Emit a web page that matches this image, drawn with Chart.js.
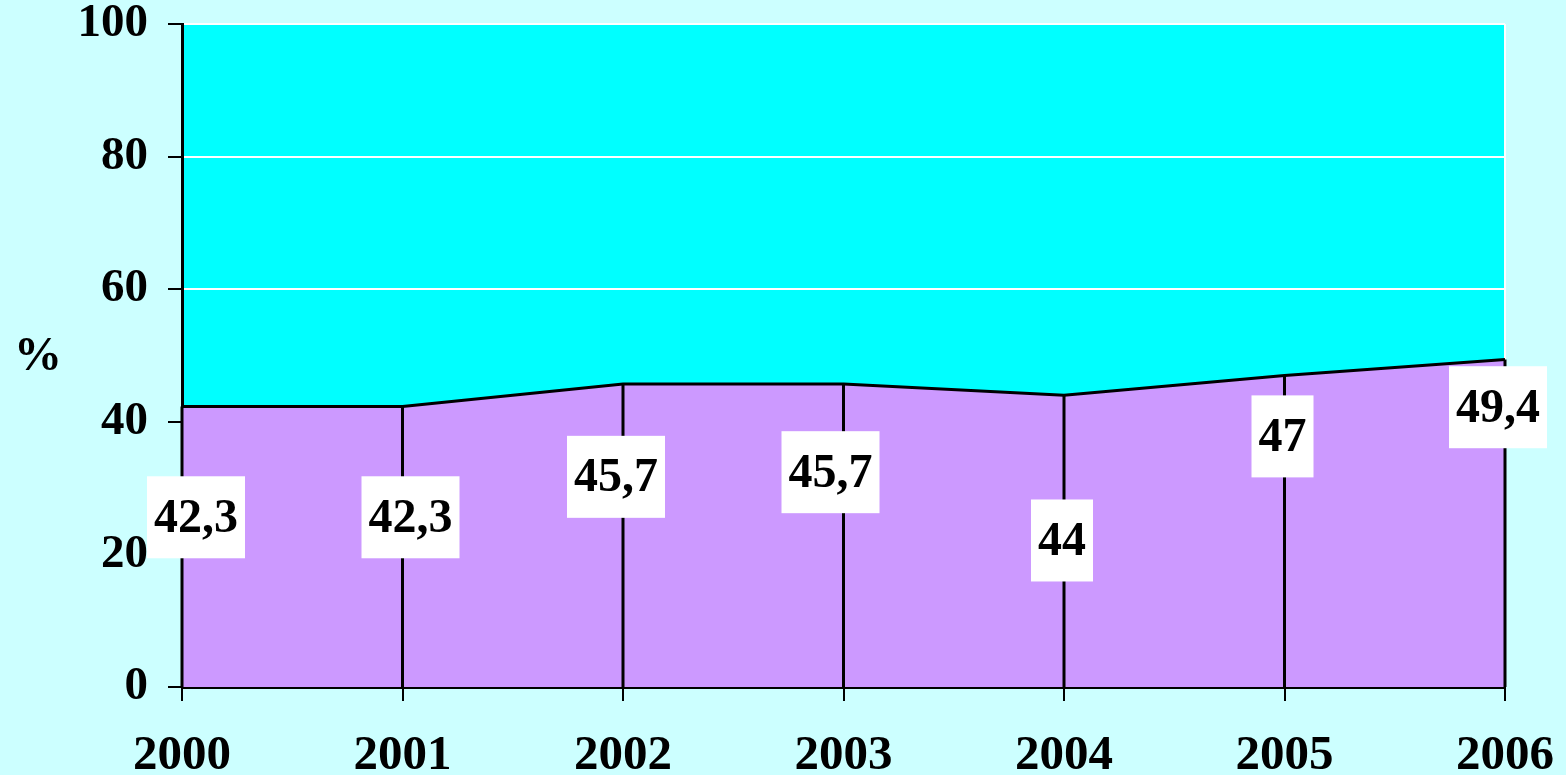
<!DOCTYPE html>
<html>
<head>
<meta charset="utf-8">
<style>
  html, body { margin: 0; padding: 0; background: #ccffff; }
  #wrap { width: 1566px; height: 775px; }
</style>
<script src="https://cdn.jsdelivr.net/npm/chart.js@4/dist/chart.umd.min.js"></script>
</head>
<body>
<div id="wrap"><canvas id="grafico"></canvas></div>
<script>
const anni = ['2000', '2001', '2002', '2003', '2004', '2005', '2006'];
const valori = [42.3, 42.3, 45.7, 45.7, 44, 47, 49.4];
const etichette = ['42,3', '42,3', '45,7', '45,7', '44', '47', '49,4'];
const yTicks = [0, 20, 40, 60, 80, 100];
// where the value boxes sit (in % units) and how far they are shifted sideways
const etichettaY = [25.6, 25.6, 31.7, 32.4, 22.1, 37.8, 42.2];
const etichettaDx = [14, 8, -7, -13, -2, -2, -7];

const FONT = '"Liberation Serif", "Times New Roman", serif';

const sfondoArea = {
    id: 'sfondoArea',
    beforeDraw(chart) {
        const { ctx, chartArea: a } = chart;
        ctx.save();
        ctx.fillStyle = '#00ffff';
        ctx.fillRect(a.left, a.top, a.right - a.left, a.bottom - a.top);
        // thin white edge on the right side of the plot
        ctx.fillStyle = '#ffffff';
        ctx.fillRect(a.right - 1, a.top, 2, a.bottom - a.top);
        ctx.restore();
    }
};

const lineeEtichette = {
    id: 'lineeEtichette',
    afterDatasetsDraw(chart) {
        const { ctx } = chart;
        const meta = chart.getDatasetMeta(0);
        const y = chart.scales.y;
        ctx.save();
        // drop lines
        ctx.strokeStyle = '#000';
        ctx.lineWidth = 3;
        meta.data.forEach(p => {
            ctx.beginPath();
            ctx.moveTo(p.x, y.getPixelForValue(0));
            ctx.lineTo(p.x, p.y);
            ctx.stroke();
        });
        // value boxes
        ctx.font = 'bold 48px ' + FONT;
        ctx.textAlign = 'center';
        ctx.textBaseline = 'middle';
        meta.data.forEach((p, i) => {
            const cx = p.x + etichettaDx[i];
            const cy = y.getPixelForValue(etichettaY[i]);
            const w = ctx.measureText(etichette[i]).width + 14;
            const h = 82;
            ctx.fillStyle = '#ffffff';
            ctx.fillRect(cx - w / 2, cy - h / 2, w, h);
            ctx.fillStyle = '#000';
            ctx.fillText(etichette[i], cx, cy + 2);
        });
        // % sign
        ctx.font = 'bold 48px ' + FONT;
        ctx.fillText('%', 38, 358);
        ctx.restore();
    }
};

new Chart(document.getElementById('grafico'), {
    type: 'line',
    data: {
        labels: anni,
        datasets: [{
            data: valori,
            borderColor: '#000',
            borderWidth: 3,
            backgroundColor: '#cc99ff',
            fill: 'origin',
            pointRadius: 0,
            tension: 0
        }]
    },
    options: {
        responsive: true,
        maintainAspectRatio: false,
        animation: false,
        layout: { padding: { top: 24, right: 61, left: 0, bottom: 0 } },
        plugins: {
            legend: { display: false },
            tooltip: { enabled: false }
        },
        scales: {
            x: {
                offset: false,
                grid: { drawOnChartArea: false, color: '#000', tickLength: 14, lineWidth: 2 },
                border: { color: '#000', width: 3 },
                ticks: {
                    color: '#000',
                    padding: 26,
                    maxRotation: 0,
                    font: { family: FONT, size: 49, weight: 'bold' }
                },
                afterFit(scale) {
                    scale.height = 88;
                    scale.paddingLeft = 0;
                    scale.paddingRight = 0;
                }
            },
            y: {
                min: 0,
                max: 100,
                afterBuildTicks(scale) { scale.ticks = yTicks.map(v => ({ value: v })); },
                grid: { color: '#ffffff', lineWidth: 2, tickColor: '#000', tickLength: 14 },
                border: { color: '#000', width: 3 },
                ticks: {
                    color: '#000',
                    padding: 20,
                    font: { family: FONT, size: 47, weight: 'bold' }
                },
                afterFit(scale) {
                    scale.width = 182;
                    scale.paddingTop = 0;
                    scale.paddingBottom = 0;
                }
            }
        }
    },
    plugins: [sfondoArea, lineeEtichette]
});
</script>
</body>
</html>
